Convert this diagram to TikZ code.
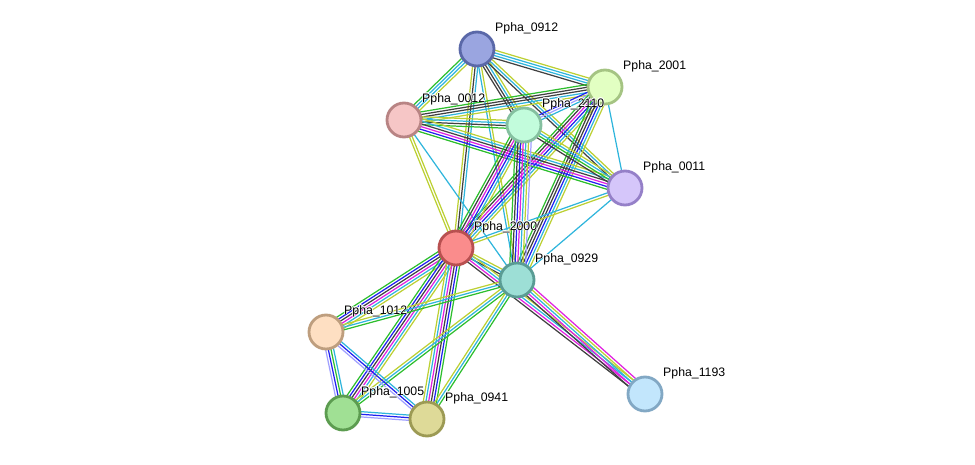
\documentclass[tikz,border=0pt]{standalone}
\usepackage{fontspec}
\setmainfont{Liberation Sans}
\usetikzlibrary{calc, backgrounds}

\definecolor{lnkgreen}{HTML}{2DBE2D}
\definecolor{lnkcyan}{HTML}{2FB5DC}
\definecolor{lnkyellow}{HTML}{BCD033}
\definecolor{lnkblack}{HTML}{404040}
\definecolor{lnkpink}{HTML}{E020E0}
\definecolor{lnkblue}{HTML}{2020F0}
\definecolor{lnkpurple}{HTML}{A0A0FF}

% fill / border per protein
\definecolor{f0912}{HTML}{9AA5E0}\definecolor{b0912}{HTML}{5A68A8}
\definecolor{f2001}{HTML}{E2FFC2}\definecolor{b2001}{HTML}{A5C483}
\definecolor{f0012}{HTML}{F6C6C6}\definecolor{b0012}{HTML}{B88484}
\definecolor{f2110}{HTML}{C2FCDC}\definecolor{b2110}{HTML}{85C0A0}
\definecolor{f0011}{HTML}{D5C6FA}\definecolor{b0011}{HTML}{9580C8}
\definecolor{f2000}{HTML}{FA8C8C}\definecolor{b2000}{HTML}{B85050}
\definecolor{f0929}{HTML}{9DDFD6}\definecolor{b0929}{HTML}{5A9C94}
\definecolor{f1012}{HTML}{FEDFC2}\definecolor{b1012}{HTML}{BE9E7E}
\definecolor{f1005}{HTML}{A0E094}\definecolor{b1005}{HTML}{5C9C50}
\definecolor{f0941}{HTML}{DEDA98}\definecolor{b0941}{HTML}{9C9A54}
\definecolor{f1193}{HTML}{C2E6FC}\definecolor{b1193}{HTML}{82A8C4}

% parallel coloured lines between two nodes
\newcommand{\linkbundle}[3]{%
    \foreach \c [count=\k] in {#3} {\xdef\nlines{\k}}%
    \foreach \c [count=\k] in {#3} {%
        \pgfmathsetmacro{\off}{(\k-(\nlines+1)/2)*1.5}%
        \draw[link, \c] ($(#1)!\off pt!90:(#2)$) -- ($(#2)!\off pt!-90:(#1)$);
    }%
}

\begin{document}
\begin{tikzpicture}[
        x=0.02cm, y=-0.02cm,
        protein/.style={
            circle, minimum size=0.68cm, inner sep=0pt,
            line width=1.6pt, draw=b#1, fill=f#1
        },
        lbl/.style={
            anchor=west, inner sep=0.5pt,
            font=\fontsize{7}{8}\selectfont
        },
        link/.style={line width=0.7pt}
    ]
        \useasboundingbox (0,0) rectangle (975,465);

        \node[protein=0912] (p0912) at (477,49) {};
        \node[protein=2001] (p2001) at (605,87) {};
        \node[protein=0012] (p0012) at (404,120) {};
        \node[protein=2110] (p2110) at (524,125) {};
        \node[protein=0011] (p0011) at (625,188) {};
        \node[protein=2000] (p2000) at (456,248) {};
        \node[protein=0929] (p0929) at (517,280) {};
        \node[protein=1012] (p1012) at (326,332) {};
        \node[protein=1005] (p1005) at (343,413) {};
        \node[protein=0941] (p0941) at (427,419) {};
        \node[protein=1193] (p1193) at (645,394) {};

        \begin{pgfonlayer}{background}
            \linkbundle{p0912}{p2001}{lnkblack, lnkcyan, lnkcyan, lnkyellow}
            \linkbundle{p0912}{p0012}{lnkgreen, lnkcyan, lnkcyan, lnkyellow}
            \linkbundle{p0912}{p2110}{lnkblack, lnkblack, lnkcyan, lnkyellow}
            \linkbundle{p0912}{p0011}{lnkblack, lnkcyan, lnkyellow}
            \linkbundle{p0912}{p2000}{lnkyellow, lnkblack, lnkcyan}
            \linkbundle{p0912}{p0929}{lnkcyan, lnkyellow}
            \linkbundle{p2001}{p0012}{lnkgreen, lnkblack, lnkblack, lnkcyan, lnkyellow}
            \linkbundle{p2001}{p2110}{lnkblue, lnkpurple, lnkcyan}
            \linkbundle{p2001}{p2000}{lnkgreen, lnkblack, lnkpink, lnkblue, lnkcyan, lnkyellow}
            \linkbundle{p2001}{p0929}{lnkgreen, lnkblack, lnkblack, lnkblue, lnkcyan, lnkyellow}
            \linkbundle{p2001}{p0011}{lnkcyan}
            \linkbundle{p0012}{p2110}{lnkgreen, lnkblack, lnkcyan, lnkyellow}
            \linkbundle{p0012}{p0011}{lnkgreen, lnkblue, lnkpink, lnkblack, lnkcyan, lnkyellow}
            \linkbundle{p0012}{p2000}{lnkyellow, lnkyellow}
            \linkbundle{p0012}{p0929}{lnkcyan}
            \linkbundle{p2110}{p0011}{lnkblack, lnkgreen, lnkcyan, lnkyellow}
            \linkbundle{p2110}{p2000}{lnkgreen, lnkblack, lnkpink, lnkblue, lnkcyan, lnkyellow}
            \linkbundle{p2110}{p0929}{lnkgreen, lnkblack, lnkblue, lnkpink, lnkcyan, lnkyellow, lnkpurple}
            \linkbundle{p0011}{p2000}{lnkcyan, lnkyellow}
            \linkbundle{p0011}{p0929}{lnkcyan}
            \linkbundle{p2000}{p0929}{lnkblack, lnkcyan, lnkyellow}
            \linkbundle{p2000}{p1012}{lnkgreen, lnkblue, lnkblack, lnkpink, lnkcyan, lnkyellow}
            \linkbundle{p2000}{p1005}{lnkgreen, lnkblue, lnkblack, lnkpink, lnkcyan, lnkyellow}
            \linkbundle{p2000}{p0941}{lnkyellow, lnkcyan, lnkpink, lnkblack, lnkblue, lnkgreen}
            \linkbundle{p2000}{p1193}{lnkblack, lnkpink, lnkcyan, lnkyellow}
            \linkbundle{p0929}{p1012}{lnkyellow, lnkcyan, lnkgreen}
            \linkbundle{p0929}{p1005}{lnkyellow, lnkcyan, lnkgreen}
            \linkbundle{p0929}{p0941}{lnkyellow, lnkcyan, lnkgreen}
            \linkbundle{p0929}{p1193}{lnkblack, lnkpink, lnkcyan, lnkyellow, lnkpink}
            \linkbundle{p1012}{p1005}{lnkpurple, lnkblue, lnkgreen, lnkcyan}
            \linkbundle{p1012}{p0941}{lnkpurple, lnkblue, lnkcyan}
            \linkbundle{p1005}{p0941}{lnkpurple, lnkblue, lnkcyan}
        \end{pgfonlayer}

        % names sit above right of each protein, with a thin white halo
        \foreach \p in {0912, 2001, 0012, 2110, 0011, 2000, 0929, 1012, 1005, 0941, 1193} {
            \foreach \dx/\dy in {0.6/0, -0.6/0, 0/0.6, 0/-0.6, 0.45/0.45, -0.45/0.45, 0.45/-0.45, -0.45/-0.45}
                \node[lbl, white] at ([shift={(17+\dx,-21+\dy)}]p\p.center) {Ppha\_\p};
            \node[lbl] (t\p) at ([shift={(17,-21)}]p\p.center) {Ppha\_\p};
        }
\end{tikzpicture}
\end{document}
